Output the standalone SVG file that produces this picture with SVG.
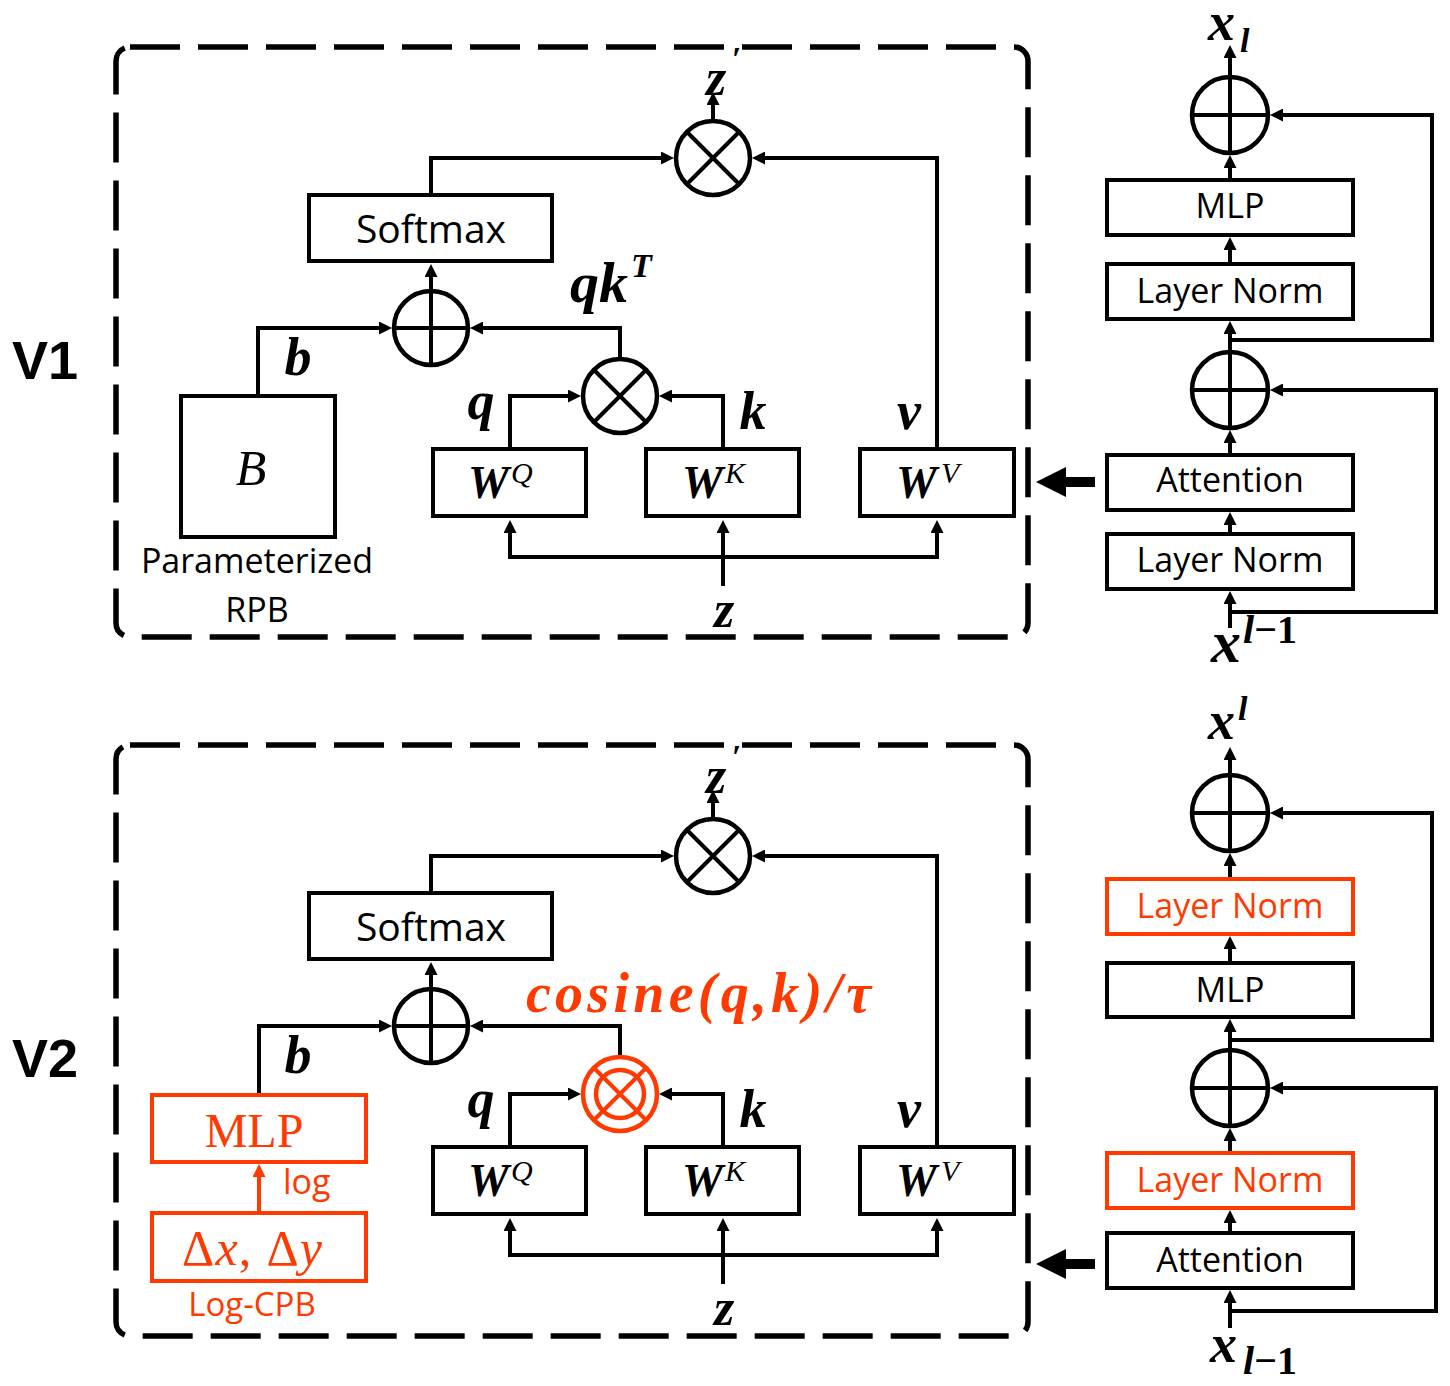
<svg xmlns="http://www.w3.org/2000/svg" width="1450" height="1386" viewBox="0 0 1450 1386">
<style>
.box{fill:#fff;stroke:#000;stroke-width:4}
.rbox{fill:#fff;stroke:#FF3A00;stroke-width:4}
.circ{fill:none;stroke:#000;stroke-width:4.5}
.rcirc{fill:none;stroke:#FF3A00;stroke-width:4.5}
.dash{fill:none;stroke:#000;stroke-width:5.5;stroke-dasharray:50 18}
.con{fill:none;stroke:#000;stroke-width:4;marker-end:url(#ah)}
.rcon{fill:none;stroke:#FF3A00;stroke-width:4;marker-end:url(#rah)}
.line{fill:none;stroke:#000;stroke-width:4}
.sans{font-family:"Open Sans","Liberation Sans",sans-serif;font-size:34px}
.math{font-family:"Liberation Serif",serif;font-weight:bold;font-style:italic}
.sup{font-family:"Liberation Serif",serif;font-style:italic;font-weight:normal}
.ver{font-family:"Liberation Sans",sans-serif;font-weight:bold;font-size:54px}
.red{fill:#FF3A00}
</style>
<defs>
<marker id="ah" markerUnits="userSpaceOnUse" markerWidth="13" markerHeight="13" refX="9" refY="6.5" orient="auto"><path d="M0,0 L13,6.5 L0,13 z" fill="#000"/></marker>
<marker id="rah" markerUnits="userSpaceOnUse" markerWidth="13" markerHeight="13" refX="9" refY="6.5" orient="auto"><path d="M0,0 L13,6.5 L0,13 z" fill="#FF3A00"/></marker>
</defs>

<!-- ===================== V1 ===================== -->
<g id="v1-frame">
<rect class="dash" x="116" y="47" width="912" height="590" rx="14"/>
<text class="ver" x="12" y="379">V1</text>
</g>

<g id="v1-connectors">
<path class="con" d="M431,195 V158 H670"/>
<path class="con" d="M937,449 V158 H756"/>
<path class="con" d="M713,121 V96"/>
<path class="con" d="M258,396 V328 H388"/>
<path class="con" d="M620,359 V328 H474"/>
<path class="con" d="M431,291 V268"/>
<path class="con" d="M510,449 V396 H577"/>
<path class="con" d="M723,449 V396 H663"/>
<path class="con" d="M723,586 V524"/>
<path class="con" d="M723,557 H510 V524"/>
<path class="con" d="M723,557 H937 V524"/>
<path d="M1095,477 H1066 V467 L1036,482 L1066,497 V487 H1095 Z" fill="#000"/>
<!-- right column -->
<path class="con" d="M1230,77 V49"/>
<path class="con" d="M1230,178 V159"/>
<path class="con" d="M1230,262 V241"/>
<path class="con" d="M1230,352 V325"/>
<path class="con" d="M1230,340 H1432 V115 H1274"/>
<path class="con" d="M1230,453 V434"/>
<path class="con" d="M1230,532 V516"/>
<path class="con" d="M1230,628 V595"/>
<path class="con" d="M1230,612 H1436 V390 H1274"/>
</g>

<g id="v1-softmax"><rect class="box" x="309" y="195" width="243" height="66"/><text class="sans" x="431" y="243" text-anchor="middle" style="font-size:39px">Softmax</text></g>
<g id="v1-mul-top"><circle class="circ" cx="713" cy="158" r="37"/><path class="line" d="M687,132 L739,184 M739,132 L687,184"/></g>
<g id="v1-zprime"><text class="math" x="706" y="95" font-size="52">z<tspan x="732" y="70" font-size="34" font-style="normal">′</tspan></text></g>
<g id="v1-add"><circle class="circ" cx="431" cy="328" r="37"/><path class="line" d="M431,291 V365 M394,328 H468"/></g>
<g id="v1-qkT"><text class="math" x="570" y="302" font-size="58">qk<tspan x="631" y="277" font-size="34">T</tspan></text></g>
<g id="v1-mul-qk"><circle class="circ" cx="620" cy="396" r="37"/><path class="line" d="M594,370 L646,422 M646,370 L594,422"/></g>
<g id="v1-B"><rect class="box" x="181" y="396" width="154" height="141"/><text class="sup" x="251" y="485" font-size="50" text-anchor="middle">B</text>
<text class="sans" x="257" y="573" text-anchor="middle">Parameterized</text><text class="sans" x="257" y="622" text-anchor="middle">RPB</text></g>
<g id="v1-b"><text class="math" x="298" y="375" font-size="54" text-anchor="middle">b</text></g>
<g id="v1-q"><text class="math" x="481" y="419" font-size="54" text-anchor="middle">q</text></g>
<g id="v1-k"><text class="math" x="753" y="429" font-size="54" text-anchor="middle">k</text></g>
<g id="v1-v"><text class="math" x="909" y="429" font-size="54" text-anchor="middle">v</text></g>
<g id="v1-WQ"><rect class="box" x="433" y="449" width="153" height="67"/><text class="math" x="468" y="498" font-size="46">W<tspan class="sup" x="511" y="483" font-size="30">Q</tspan></text></g>
<g id="v1-WK"><rect class="box" x="646" y="449" width="153" height="67"/><text class="math" x="682" y="498" font-size="46">W<tspan class="sup" x="725" y="483" font-size="30">K</tspan></text></g>
<g id="v1-WV"><rect class="box" x="860" y="449" width="154" height="67"/><text class="math" x="896" y="498" font-size="46">W<tspan class="sup" x="941" y="483" font-size="30">V</tspan></text></g>
<g id="v1-z"><text class="math" x="724" y="627" font-size="52" text-anchor="middle">z</text></g>

<g id="v1-xl"><text class="math" x="1208" y="40" font-size="54">x<tspan x="1240" y="52" font-size="34">l</tspan></text></g>
<g id="v1-add-out"><circle class="circ" cx="1230" cy="115" r="38"/><path class="line" d="M1230,77 V153 M1192,115 H1268"/></g>
<g id="v1-mlp"><rect class="box" x="1107" y="180" width="246" height="55"/><text class="sans" x="1230" y="218" text-anchor="middle">MLP</text></g>
<g id="v1-ln2"><rect class="box" x="1107" y="264" width="246" height="55"/><text class="sans" x="1230" y="303" text-anchor="middle">Layer Norm</text></g>
<g id="v1-add-mid"><circle class="circ" cx="1230" cy="390" r="38"/><path class="line" d="M1230,352 V428 M1192,390 H1268"/></g>
<g id="v1-attn"><rect class="box" x="1107" y="455" width="246" height="55"/><text class="sans" x="1230" y="492" text-anchor="middle">Attention</text></g>
<g id="v1-ln1"><rect class="box" x="1107" y="534" width="246" height="55"/><text class="sans" x="1230" y="572" text-anchor="middle">Layer Norm</text></g>
<g id="v1-xin"><text class="math" x="1211" y="662" font-size="60">x<tspan x="1243" y="643" font-size="40">l<tspan font-style="normal">−1</tspan></tspan></text></g>

<!-- ===================== V2 ===================== -->
<g id="v2-frame">
<rect class="dash" x="116" y="745" width="912" height="591" rx="14"/>
<text class="ver" x="12" y="1077">V2</text>
</g>

<g id="v2-connectors">
<path class="con" d="M431,893 V856 H670"/>
<path class="con" d="M937,1147 V856 H756"/>
<path class="con" d="M713,819 V794"/>
<path class="con" d="M259,1095 V1026 H388"/>
<path class="con" d="M620,1057 V1026 H474"/>
<path class="con" d="M431,989 V966"/>
<path class="con" d="M510,1147 V1094 H577"/>
<path class="con" d="M723,1147 V1094 H663"/>
<path class="con" d="M723,1284 V1222"/>
<path class="con" d="M723,1255 H510 V1222"/>
<path class="con" d="M723,1255 H937 V1222"/>
<path class="rcon" d="M259,1211 V1168"/>
<path d="M1095,1259 H1066 V1249 L1036,1264 L1066,1279 V1269 H1095 Z" fill="#000"/>
<!-- right column -->
<path class="con" d="M1230,775 V751"/>
<path class="con" d="M1230,877 V857"/>
<path class="con" d="M1230,961 V940"/>
<path class="con" d="M1230,1050 V1023"/>
<path class="con" d="M1230,1040 H1432 V813 H1274"/>
<path class="con" d="M1230,1151 V1132"/>
<path class="con" d="M1230,1231 V1214"/>
<path class="con" d="M1230,1328 V1294"/>
<path class="con" d="M1230,1311 H1436 V1088 H1274"/>
</g>

<g id="v2-softmax"><rect class="box" x="309" y="893" width="243" height="66"/><text class="sans" x="431" y="941" text-anchor="middle" style="font-size:39px">Softmax</text></g>
<g id="v2-mul-top"><circle class="circ" cx="713" cy="856" r="37"/><path class="line" d="M687,830 L739,882 M739,830 L687,882"/></g>
<g id="v2-zprime"><text class="math" x="706" y="793" font-size="52">z<tspan x="732" y="768" font-size="34" font-style="normal">′</tspan></text></g>
<g id="v2-add"><circle class="circ" cx="431" cy="1026" r="37"/><path class="line" d="M431,989 V1063 M394,1026 H468"/></g>
<g id="v2-cosine"><text class="math red" x="526" y="1012" font-size="56" textLength="345" lengthAdjust="spacing">cosine(q,k)/τ</text></g>
<g id="v2-mul-cos"><circle class="rcirc" cx="620" cy="1094" r="37"/><circle class="rcirc" cx="620" cy="1094" r="24"/><path d="M594,1068 L646,1120 M646,1068 L594,1120" fill="none" stroke="#FF3A00" stroke-width="4"/></g>
<g id="v2-mlp-cpb"><rect class="rbox" x="152" y="1095" width="214" height="67"/><text class="red" x="254" y="1147" font-family="Liberation Serif, serif" font-size="48" text-anchor="middle">MLP</text></g>
<g id="v2-log"><text class="sans red" x="283" y="1194">log</text></g>
<g id="v2-dxdy"><rect class="rbox" x="152" y="1213" width="214" height="68"/><text class="red" x="182" y="1265" font-family="Liberation Serif, serif" font-size="50" textLength="140" lengthAdjust="spacing">Δ<tspan font-style="italic">x</tspan>, Δ<tspan font-style="italic">y</tspan></text>
<text class="sans red" x="252" y="1316" text-anchor="middle" style="font-size:33px">Log-CPB</text></g>
<g id="v2-b"><text class="math" x="298" y="1073" font-size="54" text-anchor="middle">b</text></g>
<g id="v2-q"><text class="math" x="481" y="1117" font-size="54" text-anchor="middle">q</text></g>
<g id="v2-k"><text class="math" x="753" y="1127" font-size="54" text-anchor="middle">k</text></g>
<g id="v2-v"><text class="math" x="909" y="1127" font-size="54" text-anchor="middle">v</text></g>
<g id="v2-WQ"><rect class="box" x="433" y="1147" width="153" height="67"/><text class="math" x="468" y="1196" font-size="46">W<tspan class="sup" x="511" y="1181" font-size="30">Q</tspan></text></g>
<g id="v2-WK"><rect class="box" x="646" y="1147" width="153" height="67"/><text class="math" x="682" y="1196" font-size="46">W<tspan class="sup" x="725" y="1181" font-size="30">K</tspan></text></g>
<g id="v2-WV"><rect class="box" x="860" y="1147" width="154" height="67"/><text class="math" x="896" y="1196" font-size="46">W<tspan class="sup" x="941" y="1181" font-size="30">V</tspan></text></g>
<g id="v2-z"><text class="math" x="724" y="1325" font-size="52" text-anchor="middle">z</text></g>

<g id="v2-xl"><text class="math" x="1208" y="739" font-size="54">x<tspan x="1238" y="720" font-size="34">l</tspan></text></g>
<g id="v2-add-out"><circle class="circ" cx="1230" cy="813" r="38"/><path class="line" d="M1230,775 V851 M1192,813 H1268"/></g>
<g id="v2-ln-post2"><rect class="rbox" x="1107" y="879" width="246" height="55"/><text class="sans red" x="1230" y="918" text-anchor="middle">Layer Norm</text></g>
<g id="v2-mlp"><rect class="box" x="1107" y="963" width="246" height="54"/><text class="sans" x="1230" y="1002" text-anchor="middle">MLP</text></g>
<g id="v2-add-mid"><circle class="circ" cx="1230" cy="1088" r="38"/><path class="line" d="M1230,1050 V1126 M1192,1088 H1268"/></g>
<g id="v2-ln-post1"><rect class="rbox" x="1107" y="1153" width="246" height="55"/><text class="sans red" x="1230" y="1192" text-anchor="middle">Layer Norm</text></g>
<g id="v2-attn"><rect class="box" x="1107" y="1233" width="246" height="55"/><text class="sans" x="1230" y="1272" text-anchor="middle">Attention</text></g>
<g id="v2-xin"><text class="math" x="1210" y="1362" font-size="54">x<tspan x="1243" y="1374" font-size="40">l<tspan font-style="normal">−1</tspan></tspan></text></g>
</svg>
